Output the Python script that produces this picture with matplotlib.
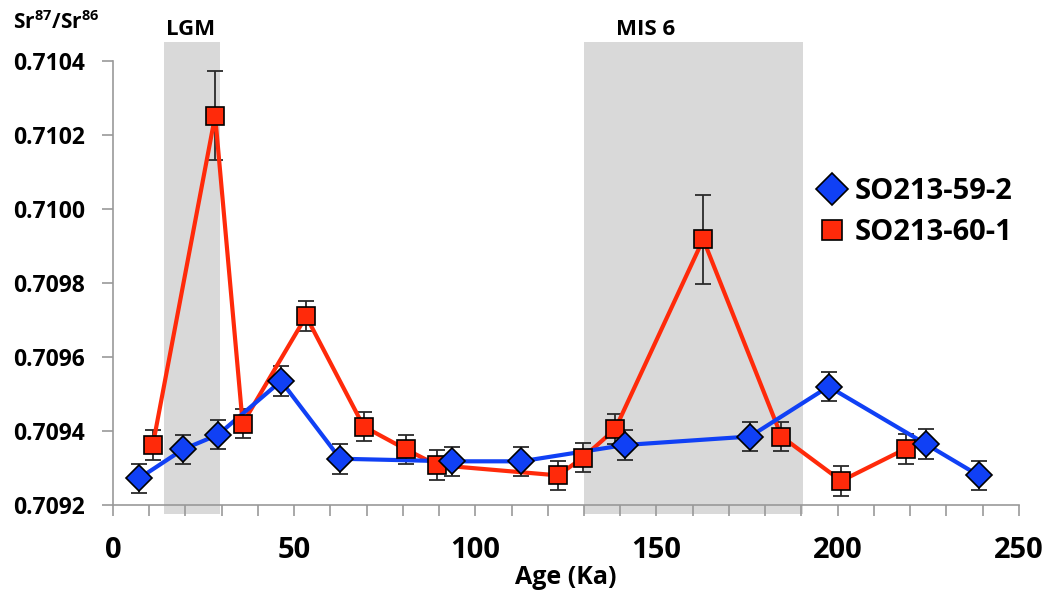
import matplotlib
matplotlib.use("Agg")
import matplotlib.pyplot as plt
from matplotlib.lines import Line2D

plt.rcParams['font.family'] = ['Open Sans', 'DejaVu Sans']
plt.rcParams['font.weight'] = 'bold'
plt.rcParams['mathtext.fontset'] = 'custom'
plt.rcParams['mathtext.rm'] = 'Open Sans:bold'
plt.rcParams['mathtext.bf'] = 'Open Sans:bold'

# SO213-59-2 (blue diamonds)
age_59 = [7.2, 19.3, 29.0, 46.4, 62.7, 93.6, 112.7, 141.2, 175.8, 197.5, 224.3, 238.9]
sr_59 = [0.709272, 0.709350, 0.709390, 0.709535, 0.709325, 0.709318, 0.709318,
         0.709362, 0.709385, 0.709520, 0.709365, 0.709280]
err_59 = [0.00004] * len(age_59)

# SO213-60-1 (red squares)
age_60 = [11.0, 28.2, 35.8, 53.3, 69.2, 80.9, 89.4, 122.8, 129.7, 138.6, 162.9, 184.5, 201.0, 218.8]
sr_60 = [0.709362, 0.710252, 0.709420, 0.709710, 0.709412, 0.709350, 0.709308,
         0.709280, 0.709328, 0.709405, 0.709918, 0.709385, 0.709265, 0.709352]
err_60 = [0.00004, 0.00012, 0.00004, 0.00004, 0.00004, 0.00004, 0.00004,
          0.00004, 0.00004, 0.00004, 0.00012, 0.00004, 0.00004, 0.00004]

# Shaded periods
periods = ["LGM", "MIS 6"]
period_start = [14.0, 130.0]
period_end = [29.5, 190.5]
period_label_x = [21.3, 147.0]

x_ticks = [0, 50, 100, 150, 200, 250]
y_ticks = [0.7092, 0.7094, 0.7096, 0.7098, 0.7100, 0.7102, 0.7104]

fig = plt.figure(figsize=(10.46, 5.92), dpi=100)
ax = fig.add_axes([0.108, 0.147, 0.866, 0.750])

ax.set_xlim(0, 250)
ax.set_ylim(0.7092, 0.7104)

for name, s, e, lx in zip(periods, period_start, period_end, period_label_x):
    ax.axvspan(s, e, ymin=-0.02, ymax=1.043, color='#d9d9d9', zorder=0, clip_on=False, lw=0)
    ax.text(lx, 1.047, name, transform=ax.get_xaxis_transform(),
            ha='center', va='bottom', fontsize=16, fontweight='bold')

blue = '#1040f5'
red = '#ff2a0a'

ax.errorbar(age_60, sr_60, yerr=err_60, fmt='none', ecolor='#2a2a2a', elinewidth=1.3,
            capsize=6, capthick=1.3, zorder=2, clip_on=False)
ax.errorbar(age_59, sr_59, yerr=err_59, fmt='none', ecolor='#2a2a2a', elinewidth=1.3,
            capsize=6, capthick=1.3, zorder=2, clip_on=False)
ax.plot(age_60, sr_60, color=red, lw=3, zorder=3, solid_capstyle='round')
ax.plot(age_59, sr_59, color=blue, lw=3, zorder=3, solid_capstyle='round')
ax.plot(age_60, sr_60, ls='none', marker='s', ms=12.5, mfc=red, mec='black', mew=1.2, zorder=4, clip_on=False)
ax.plot(age_59, sr_59, ls='none', marker='D', ms=13.5, mfc=blue, mec='black', mew=1.2, zorder=5, clip_on=False)

for sp in ['top', 'right']:
    ax.spines[sp].set_visible(False)
for sp in ['left', 'bottom']:
    ax.spines[sp].set_color('#999999')
    ax.spines[sp].set_linewidth(1.2)

ax.set_xticks(x_ticks)
ax.set_xticks(list(range(0, 251, 10)), minor=True)
ax.set_yticks(y_ticks)
ax.set_yticklabels([f"{v:.4f}" for v in y_ticks])
ax.tick_params(axis='x', which='both', direction='out', length=8, width=1.2, color='#999999',
               labelsize=21, pad=14)
ax.tick_params(axis='y', which='major', direction='out', length=8, width=1.2, color='#999999',
               labelsize=16.5, pad=12)
for lab in ax.get_xticklabels() + ax.get_yticklabels():
    lab.set_fontweight('bold')

ax.set_xlabel('Age (Ka)', fontsize=18, fontweight='bold', labelpad=0)

fig.text(0.012, 0.962, r'$\mathrm{Sr^{87}/Sr^{86}}$', fontsize=15, ha='left', va='center')

handles = [Line2D([], [], ls='none', marker='D', ms=16, mfc=blue, mec='black', mew=1.2),
           Line2D([], [], ls='none', marker='s', ms=15, mfc=red, mec='black', mew=1.2)]
fig.legend(handles, ['SO213-59-2', 'SO213-60-1'], loc='upper left',
           bbox_to_anchor=(0.77, 0.72), frameon=False, fontsize=21,
           handletextpad=0.3, labelspacing=0.4, handlelength=1.0, borderaxespad=0)

fig.savefig('out.png', dpi=100)
